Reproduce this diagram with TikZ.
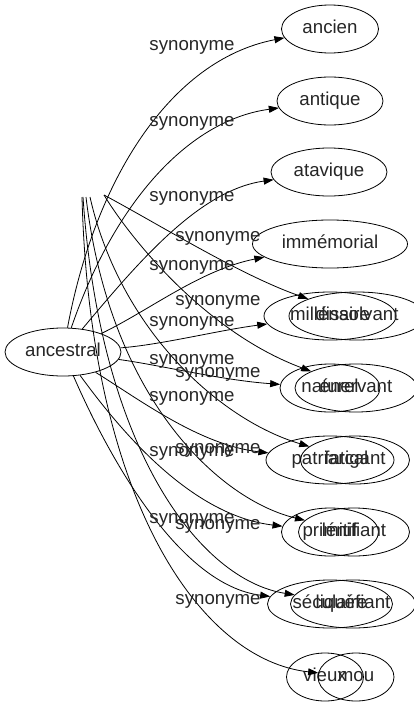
\documentclass[tikz,border=0pt]{standalone}
\usepackage{fontspec}
\setmainfont{Liberation Sans}
\usetikzlibrary{shapes.geometric,arrows.meta}
\tikzset{
  mot/.style={draw, ellipse, inner sep=0pt, minimum height=48pt, line width=0.8pt,
    text height=13.5pt, text depth=3.9pt,
    font=\fontsize{18.67}{20}\selectfont, text=black!85},
  lien/.style={-{Triangle[length=10pt,width=7pt]}, line width=0.8pt},
  etiq/.style={inner sep=0pt, text height=13.5pt, text depth=3.9pt,
    font=\fontsize{18.67}{20}\selectfont, text=black!85}
}

\begin{document}
\begin{tikzpicture}[x=1pt,y=-1pt]
%%%%% START %%%%%
\useasboundingbox (0,0) rectangle (413,707);

% first layer
\node[mot, minimum width=116pt] (anc) at (63,352) {ancestral};
\node[mot, minimum width=97pt] (ancien) at (330,29) {ancien};
\node[mot, minimum width=106pt] (antique) at (330,101) {antique};
\node[mot, minimum width=116pt] (atavique) at (329,172) {atavique};
\node[mot, minimum width=155pt] (immemorial) at (330,244) {immémorial};
\node[mot, minimum width=132pt] (millenaire) at (330,316) {millénaire};
\node[mot, minimum width=100pt] (naturel) at (330,388) {naturel};
\node[mot, minimum width=128pt] (patriarcal) at (330,460) {patriarcal};
\node[mot, minimum width=97pt] (primitif) at (330,532) {primitif};
\node[mot, minimum width=125pt] (seculaire) at (330,604) {séculaire};
\node[mot, minimum width=77pt] (vieux) at (325,677) {vieux};

% second layer
\node[mot, minimum width=136pt] (dissolvant) at (357,316) {dissolvant};
\node[mot, minimum width=122pt] (enervant) at (356,388) {énervant};
\node[mot, minimum width=109pt] (fatigant) at (355,460) {fatigant};
\node[mot, minimum width=111pt] (lenifiant) at (354,532) {lénifiant};
\node[mot, minimum width=125pt] (liquefiant) at (353,604) {liquéfiant};
\node[mot, minimum width=76pt] (mou) at (356,677) {mou};

\coordinate (depA) at (82,197);
\coordinate (depB) at (83,197);
\coordinate (depC) at (86,197);
\coordinate (depD) at (90,197);
\coordinate (depE) at (104,195);

% edges of the first layer
\draw[lien] (anc) .. controls (95,180) and (170,60) .. (ancien);
\draw[lien] (anc) .. controls (115,200) and (190,120) .. (antique);
\draw[lien] (anc) .. controls (140,260) and (200,190) .. (atavique);
\draw[lien] (anc) .. controls (150,310) and (200,270) .. (immemorial);
\draw[lien] (anc) .. controls (160,345) and (220,330) .. (millenaire);
\draw[lien] (anc) .. controls (160,365) and (220,380) .. (naturel);
\draw[lien] (anc) .. controls (140,400) and (200,445) .. (patriarcal);
\draw[lien] (anc) .. controls (120,430) and (190,515) .. (primitif);
\draw[lien] (anc) .. controls (110,460) and (180,585) .. (seculaire);

% edges of the second layer
\draw[lien] (depE) .. controls (160,225) and (240,275) .. (dissolvant);
\draw[lien] (depE) .. controls (125,230) and (200,330) .. (enervant);
\draw[lien] (depD) .. controls (120,330) and (220,420) .. (fatigant);
\draw[lien] (depC) .. controls (110,400) and (220,500) .. (lenifiant);
\draw[lien] (depB) .. controls (100,450) and (200,580) .. (liquefiant);
\draw[lien] (depA) .. controls (90,500) and (200,660) .. (mou);

% labels
\foreach \y in {46,122,197,266,322,360,397,452,519}
  \node[etiq] at (192,\y) {synonyme};
\foreach \y in {237,301,373,449,525,600}
  \node[etiq] at (218,\y) {synonyme};
%%%%% END %%%%%
\end{tikzpicture}
\end{document}
